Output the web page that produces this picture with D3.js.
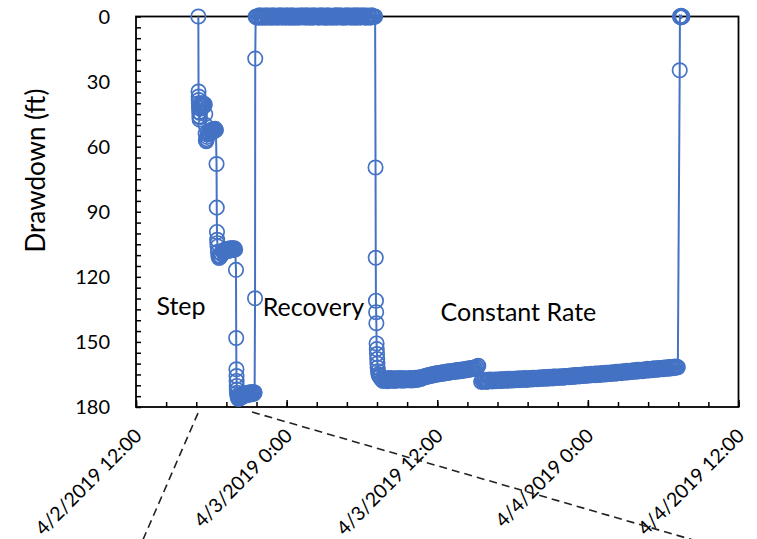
<!DOCTYPE html>
<html><head><meta charset="utf-8">
<script src="https://cdn.jsdelivr.net/npm/d3@7"></script>
<style>body{margin:0;background:#fff} svg{display:block}</style>
</head><body>
<svg id="chart" width="757" height="539"></svg>
<script>
// ---------------- DATA ----------------
// time is minutes after 4/2/2019 12:00, drawdown in ft
const axisStart = new Date(2019, 3, 2, 12, 0);
const axisEnd = new Date(2019, 3, 4, 12, 0);
const xTickLabels = ["4/2/2019 12:00", "4/3/2019 0:00", "4/3/2019 12:00", "4/4/2019 0:00", "4/4/2019 12:00"];
const xMajorMinutes = [0, 720, 1440, 2160, 2880];
const xMinorStepMinutes = 144;
const yTicks = [0, 30, 60, 90, 120, 150, 180];
const yMinorStep = 5;

const stepTest = [
  [298, 0],
  [299, 34.6], [299.5, 36.9], [300, 38.5], [300.5, 40], [301, 42], [302, 44], [303, 46], [304, 47.5], [305, 46.5],
  [306, 44.5], [307, 42.5], [308, 41.2], [311, 40.1], [314, 41.4], [317, 40.0], [320, 41.5], [323, 40.2], [326, 41.3], [329, 40.5],
  [331, 45], [332, 50], [333, 54], [334, 57], [336, 57.5], [338, 56.5], [340, 55.5], [343, 54.5], [346, 54], [349, 53.5],
  [352, 53.8], [355, 52.6], [358, 53.4], [361, 52.3], [364, 53.1], [367, 52.0], [370, 52.9], [373, 51.9], [376, 52.7], [379, 51.8], [382, 52.4],
  [385, 68], [386, 88.1], [387, 99.3], [388, 102.9], [389, 104.5], [390, 106], [392, 108.5], [394, 110.5], [397, 111.3], [400, 110.2],
  [403, 110.8], [406, 109.2], [410, 109.6], [414, 108.0], [418, 108.9], [422, 107.6], [426, 108.5], [430, 107.3], [434, 108.2], [438, 107.2],
  [442, 108.0], [446, 107.0], [450, 107.8], [454, 106.9], [458, 107.7], [462, 106.8], [466, 107.6], [470, 106.8], [474, 107.4],
  [478, 116.8], [479, 148.2], [480, 162.6], [480.5, 165.7], [481, 168], [481.5, 170.3], [482, 172], [483, 173.5], [485, 174.8], [487, 175.6],
  [490, 176.3], [493, 175.3], [496, 176.0], [499, 174.8], [502, 175.7], [505, 174.5], [508, 175.3], [511, 174.2], [515, 175.0], [519, 173.9],
  [523, 174.7], [527, 173.7], [531, 174.5], [535, 173.5], [539, 174.3], [543, 173.3], [547, 174.2], [551, 173.2], [555, 174.0], [559, 173.1],
  [563, 173.9], [567, 173.3],
  [569, 129.9], [570, 19.4]
];

// recovery period, logged every 5 minutes
const recoveryStart = 572, recoveryInterval = 5;
const recoveryDrawdown = [
  0.1, 0.4, -0.2, 0.5, -0.5, 0.2, 0.6, -0.3, 0.0, 0.5,
  -0.6, 0.3, -0.1, 0.6, -0.4, 0.1, 0.5, -0.5, 0.2, -0.2,
  0.6, -0.3, 0.4, -0.6, 0.0, 0.5, -0.4, 0.3, -0.1, 0.6,
  -0.5, 0.2, 0.4, -0.3, 0.6, -0.6, 0.1, 0.5, -0.2, 0.3,
  -0.4, 0.6, -0.1, 0.2, -0.6, 0.4, 0.0, -0.3, 0.5, -0.5,
  0.3, -0.2, 0.6, -0.4, 0.1, 0.5, -0.6, 0.2, -0.1, 0.4,
  -0.3, 0.6, -0.5, 0.0, 0.3, -0.4, 0.5, -0.2, 0.6, -0.6,
  0.2, 0.4, -0.3, 0.5, -0.1, 0.1, -0.5, 0.6, -0.4, 0.3,
  0.0, -0.6, 0.5, -0.2, 0.4, -0.3, 0.6, -0.5, 0.2, 0.1,
  -0.4, 0.5, -0.1, 0.3, -0.6, 0.6, -0.2, 0.4, -0.5, 0.0,
  0.5, -0.3, 0.2, -0.6, 0.4, -0.1, 0.6, -0.4, 0.3, -0.2,
  0.5, -0.5, 0.1, 0.2
];

const constantRateOnset = [
  [1143, 0], [1145, 69.6], [1146, 111.2], [1147, 131], [1148, 136.3], [1149, 141.4], [1150, 150.7], [1151, 153.3],
  [1152, 155.6], [1153, 157.9], [1154, 160], [1155, 161.8], [1157, 163.5], [1159, 164.9], [1162, 165.6]
];

// constant-rate test, logged every 5 minutes
const constantRate1Start = 1166, constantRate1Interval = 5;
const constantRate1 = [
  166.0, 166.9, 167.5, 168.0, 166.8, 167.7, 167.1, 168.1, 166.7, 167.4,
  167.9, 166.6, 167.6, 167.2, 168.0, 166.8, 167.3, 167.8, 166.7, 167.5,
  167.0, 167.9, 166.6, 167.4, 167.8, 166.9, 167.2, 167.7, 166.6, 167.3,
  167.8, 166.7, 167.1, 167.6, 166.5, 167.2, 167.5, 166.4, 166.9, 167.1,
  166.2, 166.7, 166.0, 166.3, 165.6, 166.1, 165.4, 165.8, 165.1, 165.6,
  164.9, 165.4, 164.7, 165.2, 164.5, 165.0, 164.3, 164.9, 164.2, 164.7,
  164.0, 164.6, 163.9, 164.4, 163.7, 164.3, 163.6, 164.1, 163.5, 163.9,
  163.3, 163.8, 163.2, 163.7, 163.0, 163.6, 162.9, 163.5, 162.8, 163.3,
  162.6, 163.2, 162.5, 163.0, 162.3, 162.9, 162.2, 162.7, 162.0, 162.5,
  161.8, 162.2, 161.5, 161.6, 161.0
];
const constantRate2Start = 1650, constantRate2Interval = 5;
const constantRate2 = [
  168.4, 167.6, 168.3, 167.9, 167.5, 168.4, 167.8, 168.2, 167.4, 168.1,
  167.5, 168.2, 167.7, 167.3, 168.1, 167.6, 168.0, 167.2, 167.9, 167.5,
  168.0, 167.1, 167.7, 167.4, 167.9, 167.0, 167.6, 167.8, 167.0, 167.5,
  167.8, 167.0, 167.5, 167.7, 166.9, 167.4, 167.6, 166.8, 167.5, 167.2,
  167.5, 166.7, 167.3, 167.0, 167.5, 166.6, 167.2, 166.9, 167.3, 166.5,
  167.2, 166.5, 167.0, 166.8, 167.2, 166.4, 166.9, 167.0, 166.3, 166.8,
  167.0, 166.2, 166.8, 166.5, 166.9, 166.1, 166.7, 166.4, 166.8, 166.0,
  166.7, 166.0, 166.5, 166.2, 166.6, 165.8, 166.4, 166.1, 166.5, 165.7,
  166.4, 165.7, 166.2, 165.9, 166.3, 165.5, 166.0, 165.8, 166.1, 165.3,
  166.0, 165.3, 165.8, 165.5, 165.9, 165.1, 165.6, 165.3, 165.7, 164.9,
  165.6, 164.9, 165.4, 165.1, 165.5, 164.7, 165.2, 165.0, 165.3, 164.6,
  165.3, 164.6, 165.1, 164.8, 165.2, 164.4, 164.9, 164.7, 165.0, 164.2,
  164.9, 164.2, 164.7, 164.4, 164.8, 164.0, 164.5, 164.3, 164.6, 163.8,
  164.5, 163.8, 164.3, 164.0, 164.4, 163.6, 164.1, 163.8, 164.1, 163.3,
  164.1, 163.4, 163.9, 163.5, 163.9, 163.1, 163.6, 163.4, 163.7, 162.9,
  163.6, 162.9, 163.4, 163.1, 163.5, 162.7, 163.2, 162.9, 163.2, 162.4,
  163.2, 162.5, 163.0, 162.6, 163.0, 162.2, 162.7, 162.5, 162.8, 162.0,
  162.7, 162.0, 162.5, 162.2, 162.6, 161.8, 162.3, 162.0, 162.3, 161.6,
  162.3, 161.6, 162.1, 161.8, 162.1, 161.4, 161.9, 161.5, 161.7
];

const shutIn = [[2599, 24.8], [2600, 0], [2603, 0.4], [2606, -0.3], [2609, 0.3], [2612, 0]];

const annotations = [
  { text: "Step", t: 215, d: 137.6 },
  { text: "Recovery", t: 848, d: 138.1 },
  { text: "Constant Rate", t: 1828, d: 140.4 }
];
// dashed leader lines [minutes, drawdown]
const leaderLines = [
  [[296.4, 182.8], [28.7, 242.2]],
  [[554.7, 182.3], [2696, 242.2]]
];

// ---------------- CHART ----------------
const plot = { left: 136, right: 738.5, top: 16.5, bottom: 407 };
const blue = "#4472C4";
const font = "Lato, 'Open Sans', sans-serif";

const toDate = m => new Date(axisStart.getTime() + m * 60000);
const x = d3.scaleTime().domain([axisStart, axisEnd]).range([plot.left, plot.right]);
const y = d3.scaleLinear().domain([0, 180]).range([plot.top, plot.bottom]);

const svg = d3.select("#chart");

// assemble series in time order
const regular = (start, step, vals) => vals.map((v, i) => [start + i * step, v]);
const series = [].concat(
  stepTest,
  regular(recoveryStart, recoveryInterval, recoveryDrawdown),
  constantRateOnset,
  regular(constantRate1Start, constantRate1Interval, constantRate1),
  regular(constantRate2Start, constantRate2Interval, constantRate2),
  shutIn
).map(([m, d]) => ({ t: toDate(m), d }));

// axes ticks (inward)
const minorX = d3.range(0, 2880 + 1, xMinorStepMinutes).map(toDate);
const majorX = xMajorMinutes.map(toDate);
const gx = svg.append("g").attr("transform", `translate(0,${plot.bottom})`);
gx.call(d3.axisBottom(x).tickValues(minorX).tickSize(-5).tickFormat(""));
gx.append("g").call(d3.axisBottom(x).tickValues(majorX).tickSize(-7).tickFormat(""));
gx.selectAll(".domain").remove();
gx.selectAll("line").attr("stroke", "#000").attr("stroke-width", 1.5);

const minorY = d3.range(0, 181, yMinorStep);
const gy = svg.append("g").attr("transform", `translate(${plot.left},0)`);
gy.call(d3.axisLeft(y).tickValues(minorY).tickSize(-5).tickFormat(""));
gy.selectAll(".domain").remove();
gy.selectAll("line").attr("stroke", "#000").attr("stroke-width", 1.5);

// frame
svg.append("rect")
  .attr("x", plot.left).attr("y", plot.top)
  .attr("width", plot.right - plot.left).attr("height", plot.bottom - plot.top)
  .attr("fill", "none").attr("stroke", "#000").attr("stroke-width", 1.8);

// y tick labels
svg.append("g").selectAll("text").data(yTicks).join("text")
  .attr("x", plot.left - 26).attr("y", d => y(d)).attr("dy", "0.36em")
  .attr("text-anchor", "end").attr("font-family", font).attr("font-size", 20).attr("fill", "#000")
  .text(d => d);

// x tick labels rotated
svg.append("g").selectAll("text").data(majorX).join("text")
  .attr("transform", d => `translate(${x(d) + 2},${plot.bottom + 25}) rotate(-45)`)
  .attr("dy", "0.36em").attr("text-anchor", "end")
  .attr("font-family", font).attr("font-size", 19.5).attr("fill", "#000")
  .text((d, i) => xTickLabels[i]);

// y axis title
svg.append("text")
  .attr("transform", `translate(36,${y(71)}) rotate(-90)`)
  .attr("dy", "0.36em").attr("text-anchor", "middle")
  .attr("font-family", font).attr("font-size", 26).attr("fill", "#000")
  .text("Drawdown (ft)");

// series line
svg.append("path").datum(series)
  .attr("d", d3.line().x(p => x(p.t)).y(p => y(p.d)))
  .attr("fill", "none").attr("stroke", blue).attr("stroke-width", 2);

// markers
svg.append("g").selectAll("circle").data(series).join("circle")
  .attr("cx", p => x(p.t)).attr("cy", p => y(p.d)).attr("r", 7.2)
  .attr("fill", "none").attr("stroke", blue).attr("stroke-width", 1.7);

// annotations
svg.append("g").selectAll("text").data(annotations).join("text")
  .attr("x", a => x(toDate(a.t))).attr("y", a => y(a.d))
  .attr("text-anchor", "middle").attr("font-family", font).attr("font-size", 25).attr("fill", "#000")
  .text(a => a.text);

// dashed leader lines
svg.append("g").selectAll("path").data(leaderLines).join("path")
  .attr("d", l => d3.line().x(p => x(toDate(p[0]))).y(p => y(p[1]))(l))
  .attr("fill", "none").attr("stroke", "#222").attr("stroke-width", 1.6).attr("stroke-dasharray", "8,5");
</script>
</body></html>
